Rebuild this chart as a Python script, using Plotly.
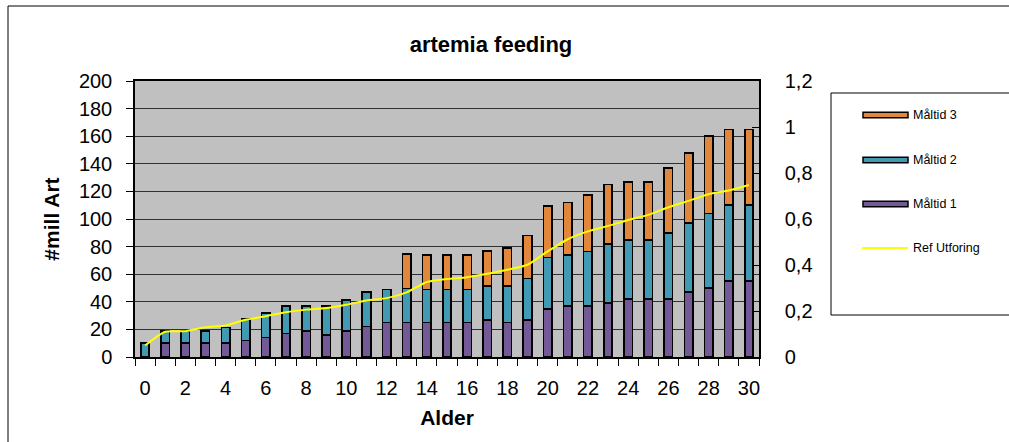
import plotly.graph_objects as go

# ---- data ----
alder = list(range(31))
maltid1 = [0, 10, 10, 10, 10, 12, 14, 17, 19, 16, 19, 22, 25, 25, 25, 25, 25, 27, 25, 27,
           35, 37, 37, 39, 42, 42, 42, 47, 50, 55, 55]
maltid2 = [10, 9, 9, 9, 11.5, 15.5, 18, 20, 18, 21, 22.5, 25, 24, 24.5, 24, 24, 24, 24.6, 26.6, 30,
           37, 37, 39.5, 43, 43, 43, 48, 50, 54, 55, 55]
maltid3 = [0, 0, 0, 0, 0, 0, 0, 0, 0, 0, 0, 0, 0, 25, 25, 25, 25, 25.4, 27.4, 31,
           37.5, 38, 41, 43, 42, 42, 47, 51, 56, 55, 55]
ref_utforing = [0.05, 0.11, 0.112, 0.129, 0.137, 0.162, 0.177, 0.195, 0.206, 0.213, 0.227, 0.246,
                0.256, 0.281, 0.326, 0.339, 0.347, 0.362, 0.379, 0.401, 0.459, 0.512, 0.546,
                0.570, 0.596, 0.618, 0.651, 0.679, 0.708, 0.724, 0.748]
left_ticks = list(range(0, 201, 20))
right_ticks = [0, 0.2, 0.4, 0.6, 0.8, 1.0, 1.2]
right_ticktext = ["0", "0,2", "0,4", "0,6", "0,8", "1", "1,2"]

names = ["Måltid 1", "Måltid 2", "Måltid 3"]
colors = ["#735A96", "#4299B2", "#E0873C"]
line_color = "#FFFF00"

FONT = "Liberation Sans, Arial, sans-serif"

fig = go.Figure()
for name, vals, col in zip(names, [maltid1, maltid2, maltid3], colors):
    fig.add_trace(go.Bar(x=alder, y=vals, name=name, width=0.42,
                         marker=dict(color=col, line=dict(color="black", width=1.6)),
                         showlegend=False))
fig.add_trace(go.Scatter(x=alder, y=ref_utforing, name="Ref Utforing", yaxis="y2",
                         mode="lines", line=dict(color=line_color, width=2, shape="spline",
                                                 smoothing=0.6),
                         showlegend=False))

# plot area in pixels
L, R, T, B = 135, 759, 81, 357
W, H = R - L, B - T


def xp(px):
    return (px - L) / W


def yp(py):
    return (B - py) / H


shapes = []
annotations = []
# outer frame (left & top)
shapes.append(dict(type="line", xref="paper", yref="paper", x0=xp(8), x1=xp(8), y0=yp(6), y1=yp(460),
                   line=dict(color="black", width=1)))
shapes.append(dict(type="line", xref="paper", yref="paper", x0=xp(8), x1=xp(1030), y0=yp(6), y1=yp(6),
                   line=dict(color="black", width=1)))
# legend box
shapes.append(dict(type="rect", xref="paper", yref="paper", x0=xp(831), x1=xp(1030), y0=yp(315), y1=yp(93),
                   line=dict(color="black", width=1), fillcolor="white"))
legend_items = [("Måltid 3", colors[2], 115), ("Måltid 2", colors[1], 160),
                ("Måltid 1", colors[0], 204)]
for name, col, py in legend_items:
    shapes.append(dict(type="rect", xref="paper", yref="paper", x0=xp(863), x1=xp(908),
                       y0=yp(py + 2.7), y1=yp(py - 2.7), fillcolor=col,
                       line=dict(color="black", width=1.5)))
    annotations.append(dict(text=name, xref="paper", yref="paper", x=xp(911), y=yp(py),
                            xanchor="left", yanchor="middle", showarrow=False,
                            font=dict(family=FONT, size=12.5, color="black")))
shapes.append(dict(type="line", xref="paper", yref="paper", x0=xp(862), x1=xp(908),
                   y0=yp(248), y1=yp(248), line=dict(color=line_color, width=2)))
annotations.append(dict(text="Ref Utforing", xref="paper", yref="paper", x=xp(911), y=yp(248),
                        xanchor="left", yanchor="middle", showarrow=False,
                        font=dict(family=FONT, size=12.5, color="black")))

fig.update_layout(
    width=1009, height=442,
    margin=dict(l=L, r=1009 - R, t=T, b=442 - B, pad=0),
    paper_bgcolor="white", plot_bgcolor="#C0C0C0",
    barmode="stack",
    font=dict(family=FONT, color="black"),
    title=dict(text="<b>artemia feeding</b>", x=491 / 1009, xanchor="center",
               y=1 - 44 / 442, yanchor="middle", font=dict(size=22, family=FONT)),
    xaxis=dict(range=[-0.5, 30.5], tickmode="array", tickvals=list(range(0, 31, 2)),
               ticks="", showgrid=False, zeroline=False,
               showline=True, linecolor="black", linewidth=1.5, mirror=True,
               tickfont=dict(size=20), ticklabelstandoff=12,
               minor=dict(ticks="outside", tick0=0.5, dtick=1, ticklen=7, tickcolor="black",
                          tickwidth=1, showgrid=False),
               title=dict(text="<b>Alder</b>", font=dict(size=21), standoff=13)),
    yaxis=dict(range=[0, 200], tickmode="array", tickvals=left_ticks,
               ticks="outside", ticklen=7, tickcolor="black", tickwidth=1,
               showgrid=True, gridcolor="#303030", gridwidth=1, zeroline=False,
               showline=True, linecolor="black", linewidth=1.5,
               tickfont=dict(size=20), ticklabelstandoff=10,
               title=dict(text="<b>#mill Art</b>", font=dict(size=21), standoff=14)),
    yaxis2=dict(range=[0, 1.2], overlaying="y", side="right", tickmode="array",
                tickvals=right_ticks, ticktext=right_ticktext,
                ticks="inside", ticklen=7, tickcolor="black", tickwidth=1,
                showgrid=False, zeroline=False, showline=True, linecolor="black", linewidth=1.5,
                tickfont=dict(size=20), ticklabelstandoff=20),
    shapes=shapes, annotations=annotations,
)

fig.write_html("out.html")
